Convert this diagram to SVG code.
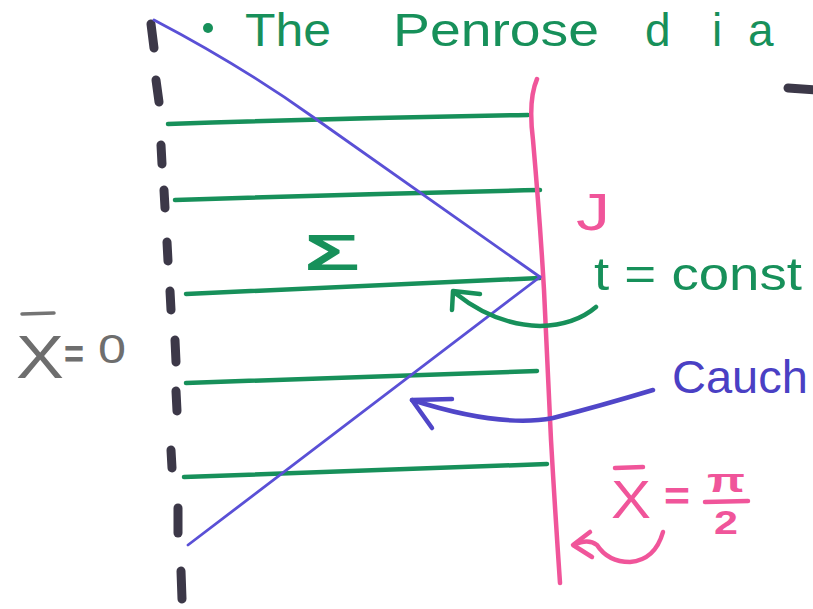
<svg xmlns="http://www.w3.org/2000/svg" width="813" height="609" viewBox="0 0 813 609">
<style>
.g{stroke:#17905a;stroke-width:4.5;fill:none;stroke-linecap:round;stroke-linejoin:round}
.b{stroke:#5a50d6;stroke-width:2.8;fill:none;stroke-linecap:round;stroke-linejoin:round}
.bt{stroke:#5046c8;stroke-width:4.5;fill:none;stroke-linecap:round;stroke-linejoin:round}
.p{stroke:#f0559a;stroke-width:4.5;fill:none;stroke-linecap:round;stroke-linejoin:round}
.d{stroke:#3c3848;stroke-width:9;fill:none;stroke-linecap:round}
.k{stroke:#747474;stroke-width:3.5;fill:none;stroke-linecap:round}
.tg{fill:#17905a;font-family:"Liberation Sans",Arial,sans-serif}
.tb{fill:#4a40c4;font-family:"Liberation Sans",Arial,sans-serif}
.tp{fill:#f0559a;font-family:"Liberation Sans",Arial,sans-serif}
.tk{fill:#6e6e6e;font-family:"Liberation Sans",Arial,sans-serif}
</style>
<rect width="813" height="609" fill="#ffffff"/>

<g id="title">
<circle cx="208" cy="28" r="5" fill="#17905a"/>
<text class="tg" y="46" font-size="46"><tspan x="245" textLength="86" lengthAdjust="spacingAndGlyphs">The</tspan><tspan x="393" textLength="206" lengthAdjust="spacingAndGlyphs">Penrose</tspan><tspan x="645 712 748">dia</tspan></text>
</g>

<g id="top-right-mark">
<line class="d" x1="788" y1="88" x2="815" y2="90" stroke-width="6"/>
</g>

<g id="origin-boundary">
<line class="d" x1="151" y1="24" x2="154" y2="48"/>
<line class="d" x1="156" y1="80" x2="159" y2="102"/>
<line class="d" x1="161" y1="145" x2="162" y2="164"/>
<line class="d" x1="164" y1="190" x2="165" y2="208"/>
<line class="d" x1="167" y1="242" x2="168" y2="261"/>
<line class="d" x1="170" y1="291" x2="171" y2="310"/>
<line class="d" x1="175" y1="340" x2="176" y2="362"/>
<line class="d" x1="176" y1="391" x2="177" y2="411"/>
<line class="d" x1="171" y1="450" x2="172" y2="468"/>
<line class="d" x1="178" y1="508" x2="178" y2="533"/>
<line class="d" x1="181" y1="571" x2="182" y2="599"/>
</g>

<g id="slices">
<path class="g" d="M168,124 Q350,118 528,115"/>
<path class="g" d="M175,200 Q360,194 540,190"/>
<path class="g" d="M186,294 Q360,286 540,278"/>
<path class="g" d="M186,383 Q360,377 537,371"/>
<path class="g" d="M184,477 Q370,471 547,464"/>
</g>

<g id="scri">
<path class="p" d="M537,79 Q528,100 533,140 Q540,220 544,290 Q548,380 551,440 Q555,510 560,583"/>
</g>

<g id="cauchy-region">
<path class="b" d="M154,20 Q240,65 313,117 Q430,200 540,277"/>
<path class="b" d="M540,277 L188,545"/>
</g>

<g id="labels">
<text class="tg" x="304" y="270" font-size="50" font-weight="bold" textLength="56" lengthAdjust="spacingAndGlyphs">Σ</text>
<text class="tp" x="576" y="230" font-size="52" textLength="34" lengthAdjust="spacingAndGlyphs">J</text>
<text class="tg" x="594" y="290" font-size="46" textLength="208" lengthAdjust="spacingAndGlyphs">t = const</text>
<text class="tb" x="672" y="393" font-size="47">Cauch</text>
<g id="xbar-pi2">
<line class="p" x1="615" y1="468" x2="643" y2="467" stroke-width="4"/>
<text class="tp" x="611" y="518" font-size="54" textLength="40" lengthAdjust="spacingAndGlyphs">X</text>
<text class="tp" x="664" y="510" font-size="40" font-weight="bold" textLength="26" lengthAdjust="spacingAndGlyphs">=</text>
<text class="tp" x="707" y="492" font-size="34" font-weight="bold" textLength="38" lengthAdjust="spacingAndGlyphs">π</text>
<line class="p" x1="705" y1="502" x2="748" y2="501" stroke-width="4"/>
<text class="tp" x="714" y="534" font-size="34" font-weight="bold" textLength="24" lengthAdjust="spacingAndGlyphs">2</text>
</g>
<g id="xbar-0">
<line class="k" x1="22" y1="314" x2="54" y2="313"/>
<text class="tk" x="16" y="378" font-size="62" textLength="48" lengthAdjust="spacingAndGlyphs">X</text>
<text class="tk" x="64" y="368" font-size="40" font-weight="bold" textLength="20" lengthAdjust="spacingAndGlyphs">=</text>
<text class="tk" x="98" y="363" font-size="40" textLength="28" lengthAdjust="spacingAndGlyphs">0</text>
</g>
</g>

<g id="connectors">
<path class="g" d="M596,307 Q575,325 540,326 Q495,325 455,293" stroke-width="3.5"/>
<path class="g" d="M480,294 L453,291 L452,310" stroke-width="3.5"/>
<path class="bt" d="M653,390 Q600,406 553,418 Q500,428 412,400" stroke-width="3.5"/>
<path class="bt" d="M452,399 L412,400 L432,428" stroke-width="3.5"/>
<path class="p" d="M663,532 Q655,560 630,562 Q608,562 597,545 Q588,538 574,545"/>
<path class="p" d="M590,532 L573,545 L592,557"/>
</g>
</svg>
